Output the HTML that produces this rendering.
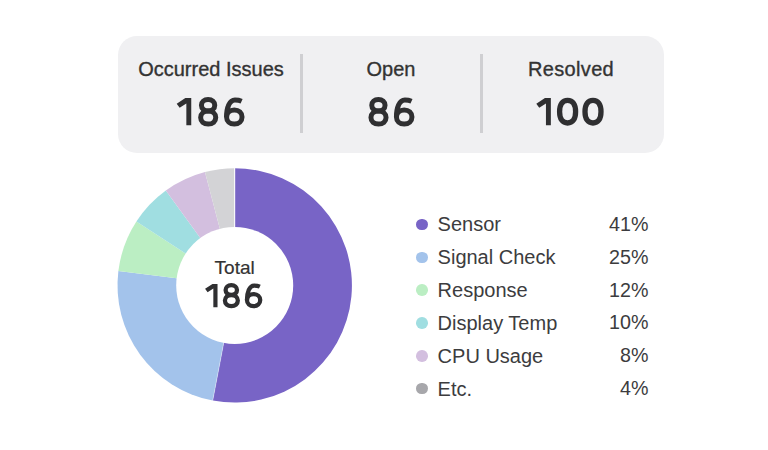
<!DOCTYPE html>
<html><head><meta charset="utf-8">
<style>
html,body{margin:0;padding:0;background:#fff;}
body{width:768px;height:450px;position:relative;overflow:hidden;font-family:"Liberation Sans",sans-serif;color:#333;}
.card{position:absolute;left:118px;top:36px;width:546px;height:116.6px;background:#f0f0f2;border-radius:19px;}
.div{position:absolute;top:54px;width:3px;height:79px;background:#cfcfd2;}
.t{position:absolute;white-space:nowrap;line-height:1;}
.lab{font-size:20px;width:200px;text-align:center;color:#333;-webkit-text-stroke:0.35px #333;transform:scaleY(1.05);transform-origin:50% 85%;}
.num{font-size:40px;font-weight:bold;width:200px;text-align:center;color:transparent;}
.lg{font-size:20px;color:#3c3c3e;}
.pc{font-size:19.7px;color:#3c3c3e;width:80px;text-align:right;}
.dot{position:absolute;width:11.6px;height:11.6px;border-radius:50%;}
</style></head><body>
<div class="card"></div>
<div class="div" style="left:300px"></div>
<div class="div" style="left:480px"></div>
<div class="t lab" style="left:111px;top:59.3px">Occurred Issues</div>
<div class="t lab" style="left:291px;top:59.3px">Open</div>
<div class="t lab" style="left:471px;top:59.3px;letter-spacing:0.35px">Resolved</div>

<svg width="768" height="450" style="position:absolute;left:0;top:0">
<path d="M234.7 285.4L234.70 168.20A117.2 117.2 0 1 1 212.74 400.52Z" fill="#7864c6"/>
<path d="M234.7 285.4L212.74 400.52A117.2 117.2 0 0 1 118.37 271.12Z" fill="#a3c3eb"/>
<path d="M234.7 285.4L118.37 271.12A117.2 117.2 0 0 1 136.41 221.57Z" fill="#bbeec3"/>
<path d="M234.7 285.4L136.41 221.57A117.2 117.2 0 0 1 165.81 190.58Z" fill="#a0dee1"/>
<path d="M234.7 285.4L165.81 190.58A117.2 117.2 0 0 1 204.96 172.04Z" fill="#d3bfdf"/>
<path d="M234.7 285.4L204.96 172.04A117.2 117.2 0 0 1 234.70 168.20Z" fill="#d3d3d6"/>
<line x1="234.7" y1="285.4" x2="212.36" y2="402.49" stroke="#fff" stroke-opacity="0.45" stroke-width="0.8"/>
<line x1="234.7" y1="285.4" x2="234.7" y2="166" stroke="#fff" stroke-width="1"/>
<circle cx="234.7" cy="285.4" r="58.5" fill="#fff"/>
</svg>
<div class="t" style="left:134.7px;width:200px;text-align:center;font-size:19px;top:257.9px;color:#333;-webkit-text-stroke:0.2px #333">Total</div>

<div class="dot" style="left:416.2px;top:218.73px;background:#7864c6"></div>
<div class="dot" style="left:416.2px;top:251.55px;background:#a3c3eb"></div>
<div class="dot" style="left:416.2px;top:284.37px;background:#bbeec3"></div>
<div class="dot" style="left:416.2px;top:317.19px;background:#a0dee1"></div>
<div class="dot" style="left:416.2px;top:350.01px;background:#d3bfdf"></div>
<div class="dot" style="left:416.2px;top:382.83px;background:#a7a7ab"></div>

<div class="t lg" style="left:437.6px;top:214.30px">Sensor</div>
<div class="t lg" style="left:437.6px;top:247.25px">Signal Check</div>
<div class="t lg" style="left:437.6px;top:280.20px">Response</div>
<div class="t lg" style="left:437.6px;top:313.15px">Display Temp</div>
<div class="t lg" style="left:437.6px;top:346.10px">CPU Usage</div>
<div class="t lg" style="left:437.6px;top:379.05px">Etc.</div>

<div class="t pc" style="left:568.5px;top:214.60px">41%</div>
<div class="t pc" style="left:568.5px;top:247.55px">25%</div>
<div class="t pc" style="left:568.5px;top:280.50px">12%</div>
<div class="t pc" style="left:568.5px;top:313.45px">10%</div>
<div class="t pc" style="left:568.5px;top:346.40px">8%</div>
<div class="t pc" style="left:568.5px;top:379.35px">4%</div>
<svg width="768" height="450" style="position:absolute;left:0;top:0">
<defs>
<g id="d1"><path d="M-3.3 -27.2L2.6 -27.2L2.6 0L-2.3 0L-2.3 -21.9L-9.0 -17.45L-11.95 -21.55Z" fill="#2f2f31"/></g>
<g id="d8" fill="none" stroke="#2f2f31" stroke-width="5.0"><path d="M0 -25.80C3.99 -25.80 6.65 -23.50 6.65 -20.05C6.65 -16.60 3.99 -14.30 0 -14.30C-3.99 -14.30 -6.65 -16.60 -6.65 -20.05C-6.65 -23.50 -3.99 -25.80 0 -25.80Z"/><path d="M0.1 -14.20C4.63 -14.20 7.65 -11.60 7.65 -7.70C7.65 -3.80 4.63 -1.20 0.1 -1.20C-4.43 -1.20 -7.45 -3.80 -7.45 -7.70C-7.45 -11.60 -4.43 -14.20 0.1 -14.20Z"/></g>
<g id="d6" fill="none" stroke="#2f2f31" stroke-width="5.0"><path d="M0 -15.40C4.50 -15.40 7.75 -12.42 7.75 -8.30C7.75 -4.18 4.50 -1.20 0 -1.20C-4.50 -1.20 -7.75 -4.18 -7.75 -8.30C-7.75 -12.42 -4.50 -15.40 0 -15.40Z"/><path d="M-7.75 -8.3C-7.75 -17.5 -4.9 -25.3 0.6 -25.3C3.5 -25.3 5.5 -24.9 7.3 -24.1"/></g>
<g id="d0" fill="none" stroke="#2f2f31" stroke-width="5.3"><path d="M0 -24.90C5.12 -24.90 8.00 -20.83 8.00 -13.60C8.00 -6.37 5.12 -2.30 0 -2.30C-5.12 -2.30 -8.00 -6.37 -8.00 -13.60C-8.00 -20.83 -5.12 -24.90 0 -24.90Z"/></g>
</defs>
<use href="#d1" transform="translate(188.65 125.3)"/>
<use href="#d8" transform="translate(208.1 125.3)"/>
<use href="#d6" transform="translate(234.3 125.3)"/>
<use href="#d8" transform="translate(378.4 125.3)"/>
<use href="#d6" transform="translate(404.2 125.3)"/>
<use href="#d1" transform="translate(548.25 125.3)"/>
<use href="#d0" transform="translate(567.6 125.3)"/>
<use href="#d0" transform="translate(593 125.3)"/>
<g transform="translate(0 0)">
<use href="#d1" transform="translate(215.3 307.2) scale(0.855)"/>
<use href="#d8" transform="translate(231.3 307.2) scale(0.855)"/>
<use href="#d6" transform="translate(253.6 307.2) scale(0.855)"/>
</g>
</svg>
<div class="t num" style="left:110px;top:91.4px">186</div>
<div class="t num" style="left:291px;top:91.4px">86</div>
<div class="t num" style="left:470px;top:91.4px">100</div>
<div class="t num" style="left:134.7px;top:278.4px;font-size:34.5px">186</div>
</body></html>
